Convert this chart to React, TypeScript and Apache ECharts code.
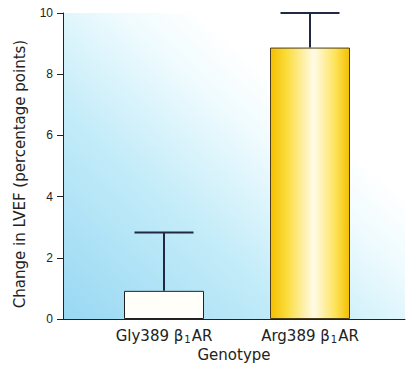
import React, { useEffect, useRef } from "react";
import * as echarts from "echarts";

const categories = ["Gly389", "Arg389"];
const means = [0.92, 8.87];
const upperErrors = [2.83, 10.0];
const yTicks = [0, 2, 4, 6, 8, 10];

export default function App() {
  const ref = useRef<HTMLDivElement>(null);
  useEffect(() => {
    const chart = echarts.init(ref.current!, null, { renderer: "svg" });
    const labelFont = "DejaVu Sans";
    const argGradient = new echarts.graphic.LinearGradient(0, 0, 1, 0, [
      { offset: 0, color: "#f4bf00" },
      { offset: 0.2, color: "#fbdc3a" },
      { offset: 0.55, color: "#fffbe8" },
      { offset: 0.82, color: "#fde35a" },
      { offset: 1, color: "#f3c000" },
    ]);
    const bg = new echarts.graphic.LinearGradient(0, 1, 1, 0, [
      { offset: 0, color: "#98d8f3" },
      { offset: 0.35, color: "#c4ecf9" },
      { offset: 0.58, color: "#effbfe" },
      { offset: 0.7, color: "#ffffff" },
      { offset: 1, color: "#ffffff" },
    ]);
    chart.setOption({
      animation: false,
      backgroundColor: "#ffffff",
      grid: [
        { left: 63, right: 1, top: 13, bottom: 48, show: true, borderWidth: 0, backgroundColor: bg },
        { left: 91, right: 23, top: 13, bottom: 48 },
      ],
      xAxis: [
        {
          type: "value",
          gridIndex: 0,
          min: 0,
          max: 1,
          axisLine: { show: true, lineStyle: { color: "#222", width: 1 } },
          axisTick: { show: false },
          axisLabel: { show: false },
          splitLine: { show: false },
          name: "Genotype",
          nameLocation: "middle",
          nameGap: 28,
          nameTextStyle: { fontFamily: labelFont, fontSize: 15, color: "#222" },
        },
        {
          type: "category",
          gridIndex: 1,
          data: categories,
          axisLine: { show: false },
          axisTick: { show: false },
          axisLabel: {
            interval: 0,
            margin: 9,
            formatter: (v: string) => `{a|${v} β}{s|1}{a|AR}`,
            rich: {
              a: { fontFamily: labelFont, fontSize: 15, color: "#222" },
              s: { fontFamily: labelFont, fontSize: 10, color: "#222", padding: [6, 1, 0, 1] },
            },
          },
        },
      ],
      yAxis: [
        {
          type: "value",
          gridIndex: 0,
          min: 0,
          max: 10,
          interval: 2,
          axisLine: { show: true, lineStyle: { color: "#222", width: 1 } },
          axisTick: { show: true, length: 6, lineStyle: { color: "#222" } },
          axisLabel: {
            fontFamily: "Liberation Sans",
            fontSize: 12,
            color: "#222",
            margin: 10,
            formatter: (v: number) => (yTicks.includes(v) ? String(v) : ""),
          },
          splitLine: { show: false },
          name: "Change in LVEF (percentage points)",
          nameLocation: "middle",
          nameGap: 36,
          nameTextStyle: { fontFamily: labelFont, fontSize: 15, color: "#222", padding: [0, 16, 0, 0] },
        },
        {
          type: "value",
          gridIndex: 1,
          min: 0,
          max: 10,
          show: false,
          splitLine: { show: false },
        },
      ],
      series: [
        {
          type: "bar",
          xAxisIndex: 1,
          yAxisIndex: 1,
          barWidth: 80,
          data: [
            { value: means[0], itemStyle: { color: "#fffef8", borderColor: "#222", borderWidth: 1 } },
            { value: means[1], itemStyle: { color: argGradient, borderColor: "#4a3c1c", borderWidth: 1 } },
          ],
          z: 3,
        },
        {
          type: "custom",
          xAxisIndex: 1,
          yAxisIndex: 1,
          data: categories.map((c, i) => [i, means[i], upperErrors[i]]),
          z: 4,
          renderItem: (params: any, api: any) => {
            const x = api.value(0);
            const base = api.coord([x, api.value(1)]);
            const top = api.coord([x, api.value(2)]);
            const half = 29.5;
            const style = { stroke: "#1f2940", lineWidth: 2 };
            return {
              type: "group",
              children: [
                { type: "line", shape: { x1: base[0], y1: base[1], x2: top[0], y2: top[1] }, style },
                { type: "line", shape: { x1: top[0] - half, y1: top[1], x2: top[0] + half, y2: top[1] }, style },
              ],
            };
          },
        },
      ],
    });
    return () => chart.dispose();
  }, []);
  return <div ref={ref} style={{ position: "fixed", left: 0, top: 0, width: 406, height: 367 }} />;
}
